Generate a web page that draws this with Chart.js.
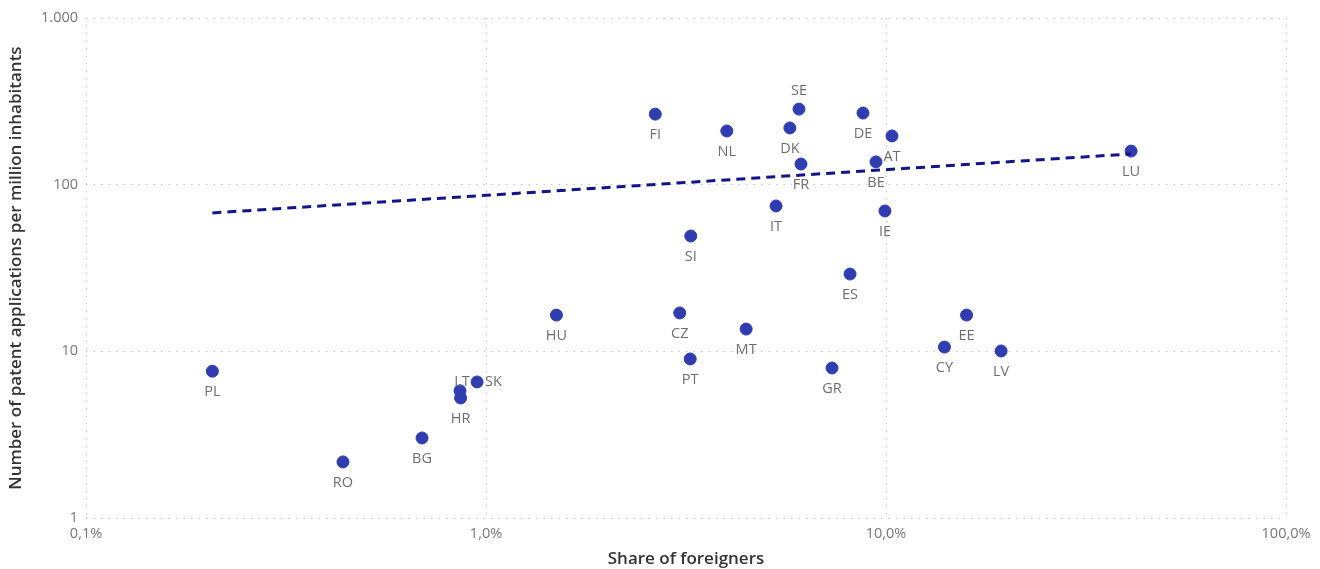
<!DOCTYPE html>
<html>
<head>
<meta charset="utf-8">
<script src="https://cdn.jsdelivr.net/npm/chart.js@4"></script>
<style>
  html, body { margin: 0; padding: 0; background: #fff; }
  #wrap { width: 1320px; height: 569px; }
</style>
</head>
<body>
<div id="wrap"><canvas id="c" width="1320" height="569"></canvas></div>
<script>
// Country codes
const countries = ["PL","RO","BG","LT","HR","SK","HU","CZ","PT","MT","SI","FI","NL","DK","SE","FR","IT","DE","AT","BE","IE","ES","GR","CY","EE","LV","LU"];
// Share of foreigners (%)
const foreignShare = [0.207,0.439,0.692,0.861,0.864,0.950,1.50,3.05,3.24,4.47,3.25,2.65,4.00,5.75,6.06,6.13,5.31,8.76,10.35,9.44,9.94,8.13,7.33,14.0,15.9,19.4,41.0];
// Patent applications per million inhabitants
const patentsPerMillion = [7.6,2.17,3.02,5.8,5.25,6.55,16.5,17.0,9.0,13.6,49.2,265,210,219,284,133,74.5,269,196,137,69.5,29.1,7.94,10.6,16.5,10.05,159];
// Where each country label sits relative to its dot
const labelSide = ["below","below","below","above","below","right","below","below","below","below","below","below","below","below","above","below","below","below","below","below","below","below","below","below","below","below","below"];
// Trend line end points
const trendX = [0.207, 41.0];
const trendY = [67.7, 153];
// Axis ticks
const xTicks = [0.1, 1, 10, 100];
const yTicks = [1, 10, 100, 1000];

const points = countries.map((c, i) => ({ x: foreignShare[i], y: patentsPerMillion[i] }));
const trend = trendX.map((x, i) => ({ x: x, y: trendY[i] }));

const FONT = "'Open Sans', 'DejaVu Sans', sans-serif";

const labelPlugin = {
  id: 'countryLabels',
  afterDatasetsDraw(chart) {
    const meta = chart.getDatasetMeta(0);
    const ctx = chart.ctx;
    ctx.save();
    ctx.font = "14.5px " + FONT;
    ctx.fillStyle = "#6f6f6f";
    meta.data.forEach((el, i) => {
      const side = labelSide[i];
      let x = el.x, y = el.y;
      ctx.textBaseline = 'middle';
      if (side === 'below') { ctx.textAlign = 'center'; y += 21; }
      else if (side === 'above') { ctx.textAlign = 'center'; y -= 18; }
      else if (side === 'right') { ctx.textAlign = 'left'; x += 8; }
      else { ctx.textAlign = 'right'; x -= 8; }
      if (countries[i] === 'LT') { y += 9; x += 2; }
      ctx.fillText(countries[i], x, y);
    });
    ctx.restore();
  }
};

const gridStyle = {
  color: "#c4c4c4",
  lineWidth: 1,
  drawTicks: false
};
const borderStyle = { display: false, dash: [1.5, 6] };

new Chart(document.getElementById('c'), {
  type: 'scatter',
  data: {
    datasets: [
      {
        data: points,
        backgroundColor: "#2f3db0",
        borderColor: "#2f3db0",
        pointRadius: 6,
        pointHoverRadius: 6,
        order: 2
      },
      {
        data: trend,
        showLine: true,
        borderColor: "#14148a",
        borderWidth: 3,
        borderDash: [9, 6],
        pointRadius: 0,
        fill: false,
        order: 1
      }
    ]
  },
  options: {
    responsive: false,
    animation: false,
    events: [],
    layout: { padding: { top: 18, right: 34, left: 0, bottom: 0 } },
    plugins: { legend: { display: false }, tooltip: { enabled: false } },
    scales: {
      x: {
        type: 'logarithmic',
        min: 0.1, max: 100,
        border: borderStyle,
        grid: gridStyle,
        afterBuildTicks: s => { s.ticks = xTicks.map(v => ({ value: v })); },
        afterFit: s => { s.height = 51; },
        ticks: {
          color: "#777",
          font: { family: FONT, size: 14.5 },
          padding: 7,
          maxRotation: 0,
          autoSkip: false,
          callback: v => v.toFixed(1).replace('.', ',') + '%'
        },
        title: {
          display: true,
          text: "Share of foreigners",
          color: "#333",
          font: { family: FONT, size: 17, weight: '600' },
          padding: { top: 0, bottom: 0 }
        }
      },
      y: {
        type: 'logarithmic',
        min: 1, max: 1000,
        border: borderStyle,
        grid: gridStyle,
        afterBuildTicks: s => { s.ticks = yTicks.map(v => ({ value: v })); },
        afterFit: s => { s.width = 86; },
        ticks: {
          color: "#777",
          font: { family: FONT, size: 14.5 },
          padding: 8,
          autoSkip: false,
          callback: v => v >= 1000 ? (v / 1000) + '.000' : String(v)
        },
        title: {
          display: true,
          text: "Number of patent applications per million inhabitants",
          color: "#333",
          font: { family: FONT, size: 17, weight: '600' },
          padding: { top: 6, bottom: 0 }
        }
      }
    }
  },
  plugins: [labelPlugin]
});
</script>
</body>
</html>
